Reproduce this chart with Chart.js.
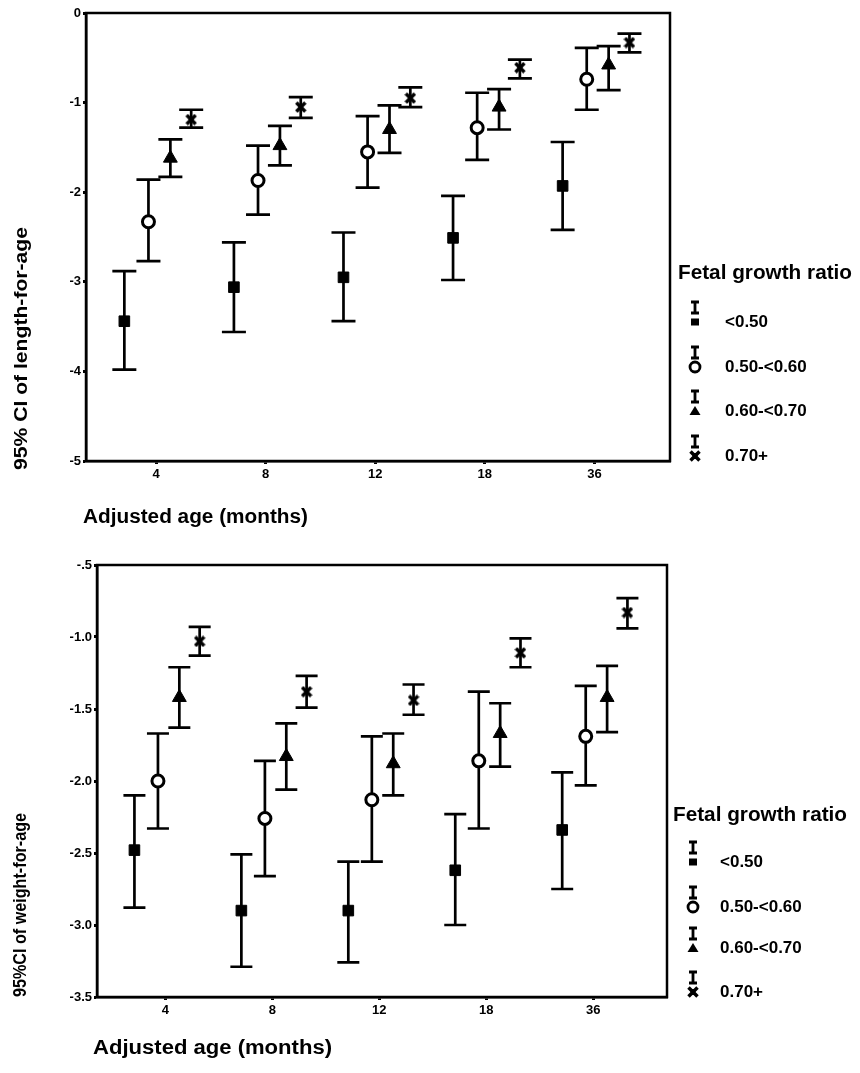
<!DOCTYPE html>
<html>
<head>
<meta charset="utf-8">
<script src="https://cdn.jsdelivr.net/npm/chart.js@4.4.0/dist/chart.umd.min.js"></script>
<style>
  html, body { margin: 0; padding: 0; background: #fff; }
  #wrap { position: relative; width: 860px; height: 1073px; }
  canvas { position: absolute; left: 0; }
  #lengthChart { top: 0; }
  #weightChart { top: 540px; }
</style>
</head>
<body>
<div id="wrap">
  <canvas id="lengthChart" width="860" height="540"></canvas>
  <canvas id="weightChart" width="860" height="533"></canvas>
</div>
<script>
// ----------------- Data -----------------
const ages = ["4", "8", "12", "18", "36"];
const groups = ["<0.50", "0.50-<0.60", "0.60-<0.70", "0.70+"];
const groupOffsets = [-0.29, -0.07, 0.13, 0.32];

const lengthTickValues = [0, -1, -2, -3, -4, -5];
const lengthTickLabels = ["0", "-1", "-2", "-3", "-4", "-5"];
// one row per fetal growth ratio group, one value per age
const lengthMean = [
  [-3.44, -3.06, -2.95, -2.51, -1.93],
  [-2.33, -1.87, -1.55, -1.28, -0.74],
  [-1.62, -1.48, -1.30, -1.05, -0.58],
  [-1.19, -1.05, -0.95, -0.61, -0.33]
];
const lengthHigh = [
  [-2.88, -2.56, -2.45, -2.04, -1.44],
  [-1.86, -1.48, -1.15, -0.89, -0.39],
  [-1.41, -1.26, -1.03, -0.85, -0.37],
  [-1.08, -0.94, -0.83, -0.52, -0.23]
];
const lengthLow = [
  [-3.98, -3.56, -3.44, -2.98, -2.42],
  [-2.77, -2.25, -1.95, -1.64, -1.08],
  [-1.83, -1.70, -1.56, -1.30, -0.86],
  [-1.28, -1.17, -1.05, -0.73, -0.44]
];

const weightTickValues = [-0.5, -1.0, -1.5, -2.0, -2.5, -3.0, -3.5];
const weightTickLabels = ["-.5", "-1.0", "-1.5", "-2.0", "-2.5", "-3.0", "-3.5"];
const weightMean = [
  [-2.48, -2.90, -2.90, -2.62, -2.34],
  [-2.00, -2.26, -2.13, -1.86, -1.69],
  [-1.42, -1.83, -1.88, -1.67, -1.42],
  [-1.03, -1.38, -1.44, -1.11, -0.83]
];
const weightHigh = [
  [-2.10, -2.51, -2.56, -2.23, -1.94],
  [-1.67, -1.86, -1.69, -1.38, -1.34],
  [-1.21, -1.60, -1.67, -1.46, -1.20],
  [-0.93, -1.27, -1.33, -1.01, -0.73]
];
const weightLow = [
  [-2.88, -3.29, -3.26, -3.00, -2.75],
  [-2.33, -2.66, -2.56, -2.33, -2.03],
  [-1.63, -2.06, -2.10, -1.90, -1.66],
  [-1.13, -1.49, -1.54, -1.21, -0.94]
];

// ----------------- Markers -----------------
const FONT = "'Liberation Sans', Arial, sans-serif";

function makeStar(size) {
  const c = document.createElement("canvas");
  c.width = size; c.height = size;
  const g = c.getContext("2d");
  g.strokeStyle = "#000";
  g.lineWidth = 3.5;
  g.beginPath();
  g.moveTo(1.5, 1.5); g.lineTo(size - 1.5, size - 1.5);
  g.moveTo(size - 1.5, 1.5); g.lineTo(1.5, size - 1.5);
  g.stroke();
  g.fillStyle = "#000";
  g.fillRect(size / 2 - 2.5, size / 2 - 3, 5, 6);
  return c;
}
const starImg = makeStar(12);

const markerStyles = [
  { pointStyle: "rect", radius: 7.5, bg: "#000", bw: 1 },
  { pointStyle: "circle", radius: 6, bg: "#fff", bw: 3 },
  { pointStyle: "triangle", radius: 8, bg: "#000", bw: 1 },
  { pointStyle: starImg, radius: 6, bg: "#000", bw: 1 }
];

function drawMarker(ctx, k, x, y, r) {
  ctx.save();
  ctx.fillStyle = "#000";
  ctx.strokeStyle = "#000";
  ctx.lineWidth = 2.8;
  if (k === 0) {
    ctx.fillRect(x - r * 0.8, y - r * 0.7, r * 1.6, r * 1.4);
  } else if (k === 1) {
    ctx.beginPath(); ctx.arc(x, y, r, 0, Math.PI * 2); ctx.stroke();
  } else if (k === 2) {
    ctx.beginPath();
    ctx.moveTo(x, y - r); ctx.lineTo(x + r * 1.1, y + r * 0.8); ctx.lineTo(x - r * 1.1, y + r * 0.8);
    ctx.closePath(); ctx.fill();
  } else {
    ctx.drawImage(starImg, x - starImg.width / 2, y - starImg.height / 2);
  }
  ctx.restore();
}

function fitText(ctx, text, x, y, width, font, rotate) {
  ctx.save();
  ctx.font = font;
  const w = ctx.measureText(text).width;
  ctx.translate(x, y);
  if (rotate) ctx.rotate(-Math.PI / 2);
  ctx.scale(width / w, 1);
  ctx.textAlign = "left";
  ctx.textBaseline = "middle";
  ctx.fillStyle = "#000";
  ctx.fillText(text, 0, 0);
  ctx.restore();
}

// ----------------- Plugins -----------------
const errorBars = {
  id: "errorBars",
  beforeDatasetsDraw(chart, args, opts) {
    const ctx = chart.ctx, xs = chart.scales.x, ys = chart.scales.y;
    ctx.save();
    ctx.strokeStyle = "#000";
    ctx.lineWidth = 2.7;
    chart.data.datasets.forEach(ds => {
      ds.data.forEach((p, i) => {
        const x = xs.getPixelForValue(p.x);
        const yh = ys.getPixelForValue(ds.high[i]);
        const yl = ys.getPixelForValue(ds.low[i]);
        const w = opts.capWidth / 2;
        ctx.beginPath();
        ctx.moveTo(x, yh); ctx.lineTo(x, yl);
        ctx.moveTo(x - w, yh); ctx.lineTo(x + w, yh);
        ctx.moveTo(x - w, yl); ctx.lineTo(x + w, yl);
        ctx.stroke();
      });
    });
    ctx.restore();
  }
};

const decorations = {
  id: "decorations",
  afterDraw(chart, args, o) {
    const ctx = chart.ctx, a = chart.chartArea;
    // frame
    ctx.save();
    ctx.strokeStyle = "#000";
    ctx.lineWidth = 2.5;
    ctx.strokeRect(a.left, a.top, a.right - a.left, a.bottom - a.top);
    ctx.restore();
    // axis titles
    fitText(ctx, o.yTitle, o.yTitleX, o.yTitleY, o.yTitleW, "bold 18px " + FONT, true);
    fitText(ctx, "Adjusted age (months)", o.xTitleX, o.xTitleY, o.xTitleW, "bold 20px " + FONT, false);
    // legend
    fitText(ctx, "Fetal growth ratio", o.legX, o.legY, 174, "bold 20px " + FONT, false);
    groups.forEach((g, k) => {
      const ry = o.legRows[k];
      const ix = o.legIconX;
      ctx.save();
      ctx.strokeStyle = "#000";
      ctx.lineWidth = 2.8;
      ctx.beginPath();
      ctx.moveTo(ix, ry - 20); ctx.lineTo(ix, ry - 9);
      ctx.moveTo(ix - 4, ry - 20); ctx.lineTo(ix + 4, ry - 20);
      ctx.moveTo(ix - 4, ry - 9); ctx.lineTo(ix + 4, ry - 9);
      ctx.stroke();
      ctx.restore();
      drawMarker(ctx, k, ix, ry, 5);
      ctx.save();
      ctx.font = "bold 17px " + FONT;
      ctx.fillStyle = "#000";
      ctx.textBaseline = "middle";
      ctx.fillText(g, o.legTextX, ry);
      ctx.restore();
    });
  }
};

// ----------------- Charts -----------------
function makeChart(id, means, highs, lows, yMin, yMax, tickValues, tickLabels, layout, deco) {
  const datasets = groups.map((g, k) => ({
    label: g,
    data: ages.map((age, i) => ({ x: i + 1 + groupOffsets[k], y: means[k][i] })),
    high: highs[k],
    low: lows[k],
    pointStyle: markerStyles[k].pointStyle,
    pointRadius: markerStyles[k].radius,
    pointBackgroundColor: markerStyles[k].bg,
    pointBorderColor: "#000",
    pointBorderWidth: markerStyles[k].bw,
    showLine: false
  }));

  const tickFont = { family: FONT, size: 13, weight: "bold" };

  return new Chart(document.getElementById(id), {
    type: "scatter",
    data: { datasets },
    options: {
      responsive: false,
      animation: false,
      events: [],
      layout: { padding: { left: 0, top: layout.top, right: layout.right, bottom: 0 } },
      plugins: {
        legend: { display: false },
        tooltip: { enabled: false },
        errorBars: { capWidth: layout.cap },
        decorations: deco
      },
      scales: {
        x: {
          type: "linear",
          min: 0.36,
          max: 5.69,
          afterBuildTicks: s => { s.ticks = ages.map((a, i) => ({ value: i + 1 })); },
          afterFit: s => { s.height = layout.xHeight; },
          ticks: { autoSkip: false, callback: (v, i) => ages[i], font: tickFont, color: "#000", padding: 3, maxRotation: 0 },
          grid: { drawOnChartArea: false, drawTicks: true, tickLength: 3, tickWidth: 3, color: "#000" },
          border: { display: true, color: "#000", width: 2.5 }
        },
        y: {
          min: yMin,
          max: yMax,
          afterBuildTicks: s => { s.ticks = tickValues.map(v => ({ value: v })); },
          afterFit: s => { s.width = layout.yWidth; },
          ticks: { autoSkip: false, callback: (v, i) => tickLabels[i], font: tickFont, color: "#000", padding: 2 },
          grid: { drawOnChartArea: false, drawTicks: true, tickLength: 3, tickWidth: 3, color: "#000" },
          border: { display: true, color: "#000", width: 2.5 }
        }
      }
    },
    plugins: [errorBars, decorations]
  });
}

window.addEventListener("DOMContentLoaded", () => {
  makeChart("lengthChart", lengthMean, lengthHigh, lengthLow, -5, 0,
    lengthTickValues, lengthTickLabels,
    { top: 13, right: 190, xHeight: 79, yWidth: 86, cap: 24 },
    {
      yTitle: "95% CI of length-for-age", yTitleX: 22, yTitleY: 470, yTitleW: 243,
      xTitleX: 83, xTitleY: 517, xTitleW: 225,
      legX: 678, legY: 273, legRows: [322, 367, 411, 456], legIconX: 695, legTextX: 725
    });

  makeChart("weightChart", weightMean, weightHigh, weightLow, -3.5, -0.5,
    weightTickValues, weightTickLabels,
    { top: 25, right: 193, xHeight: 76, yWidth: 97, cap: 22 },
    {
      yTitle: "95%CI of weight-for-age", yTitleX: 21, yTitleY: 457, yTitleW: 184,
      xTitleX: 93, xTitleY: 508, xTitleW: 239,
      legX: 673, legY: 275, legRows: [322, 367, 408, 452], legIconX: 693, legTextX: 720
    });
});
</script>
</body>
</html>
